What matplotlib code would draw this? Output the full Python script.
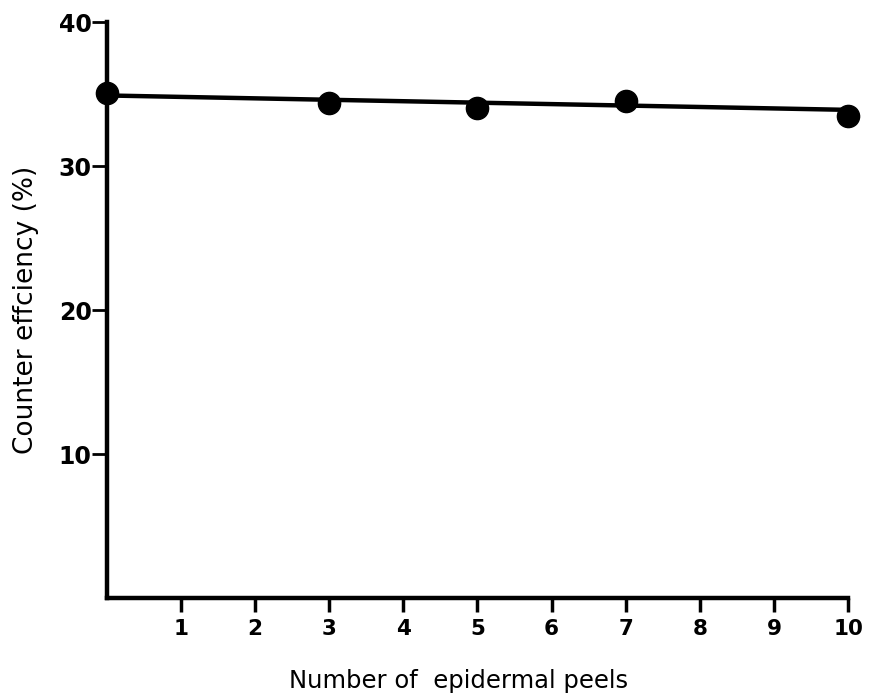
import matplotlib
matplotlib.use("Agg")
import matplotlib.pyplot as plt

# Counter efficiency measured after successive epidermal peels
peels = [0, 3, 5, 7, 10]
efficiency = [35.1, 34.4, 34.0, 34.5, 33.5]

# Fitted trend line end points
fit_x = [0, 10]
fit_y = [34.9, 33.9]

x_ticks = [1, 2, 3, 4, 5, 6, 7, 8, 9, 10]
y_ticks = [10, 20, 30, 40]

plt.rcParams['font.family'] = ['DejaVu Sans']

fig = plt.figure(figsize=(8.71, 6.97), dpi=100)
ax = fig.add_axes([0.1228, 0.142, 0.8508, 0.8264])

ax.plot(fit_x, fit_y, color='black', linewidth=3.2, solid_capstyle='butt', zorder=2)
ax.plot(peels, efficiency, linestyle='none', marker='o', markersize=16,
        color='black', zorder=3, clip_on=False)

ax.set_xlim(0, 10)
ax.set_ylim(0, 40)

for side in ('top', 'right'):
    ax.spines[side].set_visible(False)
for side in ('left', 'bottom'):
    ax.spines[side].set_linewidth(3.2)
    ax.spines[side].set_capstyle('projecting')

ax.set_xticks(x_ticks)
ax.set_yticks(y_ticks)
ax.set_xticklabels([str(v) for v in x_ticks], fontsize=15.5, fontweight='bold')
ax.set_yticklabels([str(v) for v in y_ticks], fontsize=17, fontweight='bold')
ax.tick_params(axis='x', direction='out', length=10, width=2.5, pad=5)
ax.tick_params(axis='y', direction='out', length=11, width=2.0, pad=0)

ax.set_xlabel('Number of  epidermal peels', fontsize=17.5)
ax.xaxis.set_label_coords(0.475, -0.124)
ax.set_ylabel('Counter effciency (%)', fontsize=19)
ax.yaxis.set_label_coords(-0.092, 0.5)

fig.savefig('out.png', dpi=100, facecolor='white')
